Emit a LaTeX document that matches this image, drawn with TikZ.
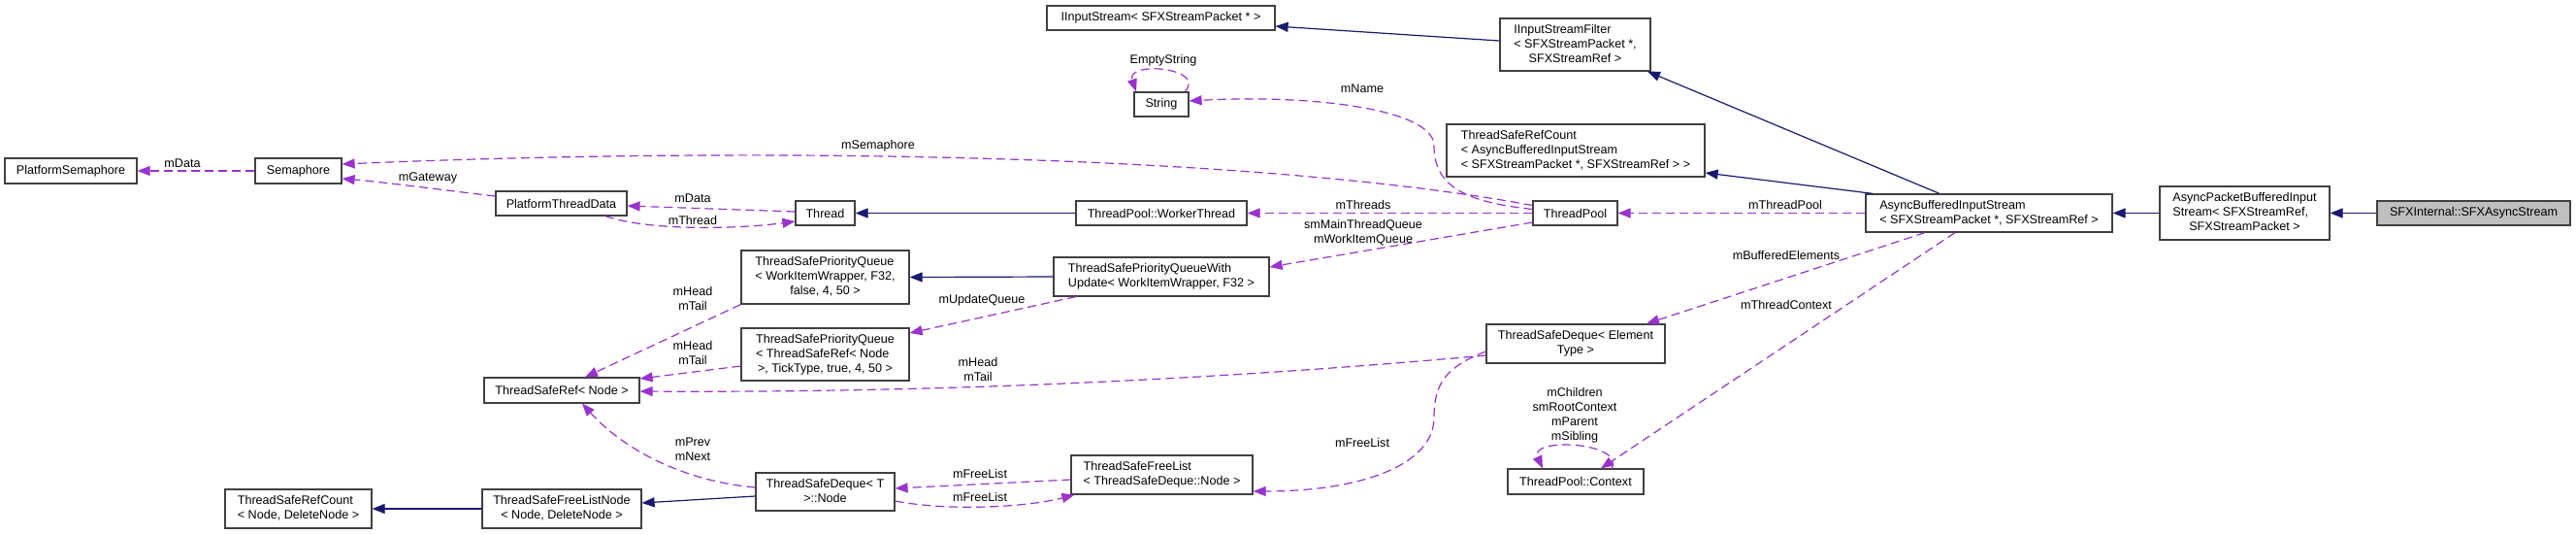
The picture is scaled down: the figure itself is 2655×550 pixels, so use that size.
\documentclass[tikz,border=0pt]{standalone}
\usepackage{fontspec}
\setmainfont{Liberation Sans}
\usetikzlibrary{arrows.meta}
\definecolor{edgeblue}{HTML}{191970}
\definecolor{edgepurple}{HTML}{9A32CD}
\definecolor{boxgray}{HTML}{BFBFBF}
\newcommand{\dxlines}[2]{\begin{tabular}{@{}l@{}}#1\\\multicolumn{1}{@{}c@{}}{#2}\end{tabular}}
\begin{document}
\begin{tikzpicture}[x=1pt,y=-1pt,
  every node/.style={font=\fontsize{12.6}{15}\selectfont},
  box/.style={draw=black!75, line width=1.2pt, fill=white, inner sep=0pt, anchor=center},
  inh/.style={draw=edgeblue, line width=1.2pt, -{Triangle[length=13pt,width=10pt]}},
  col/.style={draw=edgepurple, line width=1.2pt, dash pattern=on 9pt off 5pt, -{Triangle[length=13pt,width=10pt]}},
  lab/.style={align=center, inner sep=0pt}]
\useasboundingbox (0,0) rectangle (2655,550);
\fill[white] (0,0) rectangle (2655,550);

% nodes
\node[box, minimum width=136pt, minimum height=26pt] (PS) at (73,176) {PlatformSemaphore};
\node[box, minimum width=89pt, minimum height=26pt] (Sem) at (307.5,176) {Semaphore};
\node[box, minimum width=135pt, minimum height=25pt] (PTD) at (578.5,209.5) {PlatformThreadData};
\node[box, minimum width=61pt, minimum height=25pt] (Thread) at (850.5,219.5) {Thread};
\node[box, minimum width=173pt, minimum height=55pt] (TSPQa) at (850.5,285.5) {\dxlines{ThreadSafePriorityQueue\\< WorkItemWrapper, F32,}{false, 4, 50 >}};
\node[box, minimum width=173pt, minimum height=54pt] (TSPQb) at (850.5,365) {\dxlines{ThreadSafePriorityQueue\\< ThreadSafeRef< Node}{>, TickType, true, 4, 50 >}};
\node[box, minimum width=160pt, minimum height=26pt] (TSRef) at (579,402) {ThreadSafeRef< Node >};
\node[box, minimum width=151pt, minimum height=40pt] (TSRCN) at (307.5,524) {\dxlines{ThreadSafeRefCount}{< Node, DeleteNode >}};
\node[box, minimum width=164pt, minimum height=40pt] (TSFLN) at (579,524) {\dxlines{ThreadSafeFreeListNode}{< Node, DeleteNode >}};
\node[box, minimum width=143pt, minimum height=39pt] (TSDN) at (850.5,506.5) {\dxlines{ThreadSafeDeque< T}{>::Node}};
\node[box, minimum width=187pt, minimum height=40pt] (TSFL) at (1197.5,489) {\dxlines{ThreadSafeFreeList}{< ThreadSafeDeque::Node >}};
\node[box, minimum width=235pt, minimum height=25pt] (IIS) at (1196.5,18.5) {IInputStream< SFXStreamPacket * >};
\node[box, minimum width=56pt, minimum height=25pt] (String) at (1197,107.5) {String};
\node[box, minimum width=155pt, minimum height=54pt] (IISF) at (1623.5,46) {\dxlines{IInputStreamFilter\\< SFXStreamPacket *,}{SFXStreamRef >}};
\node[box, minimum width=266pt, minimum height=54pt] (TSRCA) at (1624,155) {\dxlines{ThreadSafeRefCount\\< AsyncBufferedInputStream}{< SFXStreamPacket *, SFXStreamRef > >}};
\node[box, minimum width=176pt, minimum height=25pt] (WT) at (1197,219.5) {ThreadPool::WorkerThread};
\node[box, minimum width=222pt, minimum height=40pt] (TSPQWU) at (1197,285) {\dxlines{ThreadSafePriorityQueueWith}{Update< WorkItemWrapper, F32 >}};
\node[box, minimum width=87pt, minimum height=25pt] (TP) at (1623.5,219.5) {ThreadPool};
\node[box, minimum width=254pt, minimum height=39pt] (ABIS) at (2050,219.5) {\dxlines{AsyncBufferedInputStream}{< SFXStreamPacket *, SFXStreamRef >}};
\node[box, minimum width=184pt, minimum height=40pt] (TSDE) at (1624,354) {\dxlines{ThreadSafeDeque< Element}{Type >}};
\node[box, minimum width=140pt, minimum height=26pt] (Ctx) at (1624,496) {ThreadPool::Context};
\node[box, minimum width=175pt, minimum height=55pt] (APBIS) at (2313.5,219.5) {\dxlines{AsyncPacketBufferedInput\\Stream< SFXStreamRef,}{SFXStreamPacket >}};
\node[box, fill=boxgray, minimum width=199pt, minimum height=25pt] (SFX) at (2549.5,219.5) {SFXInternal::SFXAsyncStream};

% inheritance
\draw[inh] ([yshift=4pt]IISF.west) -- ([yshift=-8.5pt]IIS.east);
\draw[inh] ([xshift=-51pt]ABIS.north) -- ([xshift=74.5pt]IISF.south);
\draw[inh] ([xshift=8pt]ABIS.north west) -- ([yshift=-23pt]TSRCA.east);
\draw[inh] (APBIS.west) -- (ABIS.east);
\draw[inh] (SFX.west) -- (APBIS.east);
\draw[inh] (WT.west) -- (Thread.east);
\draw[inh] (TSPQWU.west) -- (TSPQa.east);
\draw[inh] (TSFLN.west) -- (TSRCN.east);
\draw[inh] ([yshift=-4.5pt]TSDN.west) -- ([yshift=6pt]TSFLN.east);

% collaboration
\draw[col] (Sem.west) -- (PS.east);
\draw[col] ([yshift=7.5pt]PTD.west) .. controls (450,195) and (400,188) .. ([yshift=-8pt]Sem.east);
\draw[col] ([yshift=8pt]TP.west) .. controls (1300,160) and (800,150) .. ([yshift=7pt]Sem.east);
\draw[col] ([yshift=4pt]TP.west) .. controls (1510,208) and (1478,192) .. (1478,150) .. controls (1478,112) and (1350,97) .. ([yshift=3.5pt]String.east);
\draw[col] ([xshift=24pt]String.north) .. controls (1245,70) and (1160,62) .. ([xshift=-26pt]String.north);
\draw[col] (TP.west) -- (WT.east);
\draw[col] ([yshift=-9.5pt]TP.west) -- ([yshift=10pt]TSPQWU.east);
\draw[col] ([xshift=-88pt]TSPQWU.south) -- ([yshift=22pt]TSPQb.east);
\draw[col] ([xshift=45.5pt]PTD.south) .. controls (670,238) and (760,236) .. ([yshift=-8.5pt]Thread.west);
\draw[col] ([yshift=1.5pt]Thread.west) -- ([yshift=-2.5pt]PTD.east);
\draw[col] (TSPQa.south west) -- ([xshift=24pt]TSRef.north);
\draw[col] ([yshift=-12pt]TSPQb.west) -- ([yshift=12pt]TSRef.east);
\draw[col] ([yshift=-12pt]TSDE.west) .. controls (1300,387) and (1000,405) .. ([yshift=-1pt]TSRef.east);
\draw[col] ([yshift=4.5pt]TSDN.west) .. controls (700,495) and (640,460) .. ([xshift=21pt]TSRef.south);
\draw[col] ([yshift=-5pt]TSFL.west) -- ([yshift=3.5pt]TSDN.east);
\draw[col] ([yshift=-9.5pt]TSDN.east) .. controls (980,527) and (1060,522) .. ([xshift=4pt]TSFL.south west);
\draw[col] ([yshift=-8pt]TSDE.west) .. controls (1490,378) and (1478,395) .. (1478,430) .. controls (1478,480) and (1400,506) .. ([yshift=-17pt]TSFL.east);
\draw[col] (ABIS.west) -- (TP.east);
\draw[col] ([xshift=-66pt]ABIS.south) -- ([xshift=73pt]TSDE.north);
\draw[col] ([xshift=-35pt]ABIS.south) -- ([xshift=26pt]Ctx.north);
\draw[col] ([xshift=37pt]Ctx.north) .. controls (1675,455) and (1575,450) .. ([xshift=-34pt]Ctx.north);

% labels
\node[lab] (l1) at (188,168) {mData};
\node[lab] (l2) at (441,183) {mGateway};
\node[lab] (l3) at (905,150) {mSemaphore};
\node[lab] (l4) at (1404,91) {mName};
\node[lab] (l5) at (1199,62) {EmptyString};
\node[lab] (l6) at (1405,211) {mThreads};
\node[lab] (l7) at (1405,240) {smMainThreadQueue\\mWorkItemQueue};
\node[lab] (l8) at (1012,309) {mUpdateQueue};
\node[lab] (l9) at (714,204) {mData};
\node[lab] (l10) at (714,227) {mThread};
\node[lab] (l11) at (714,307) {mHead\\mTail};
\node[lab] (l12) at (714,363) {mHead\\mTail};
\node[lab] (l13) at (1008,380) {mHead\\mTail};
\node[lab] (l14) at (714,463) {mPrev\\mNext};
\node[lab] (l15) at (1010,488) {mFreeList};
\node[lab] (l16) at (1010,512) {mFreeList};
\node[lab] (l17) at (1404,456) {mFreeList};
\node[lab] (l18) at (1840,211) {mThreadPool};
\node[lab] (l19) at (1841,263) {mBufferedElements};
\node[lab] (l20) at (1841,314) {mThreadContext};
\node[lab] (l21) at (1623,428) {mChildren\\smRootContext\\mParent\\mSibling};
\end{tikzpicture}
\end{document}
